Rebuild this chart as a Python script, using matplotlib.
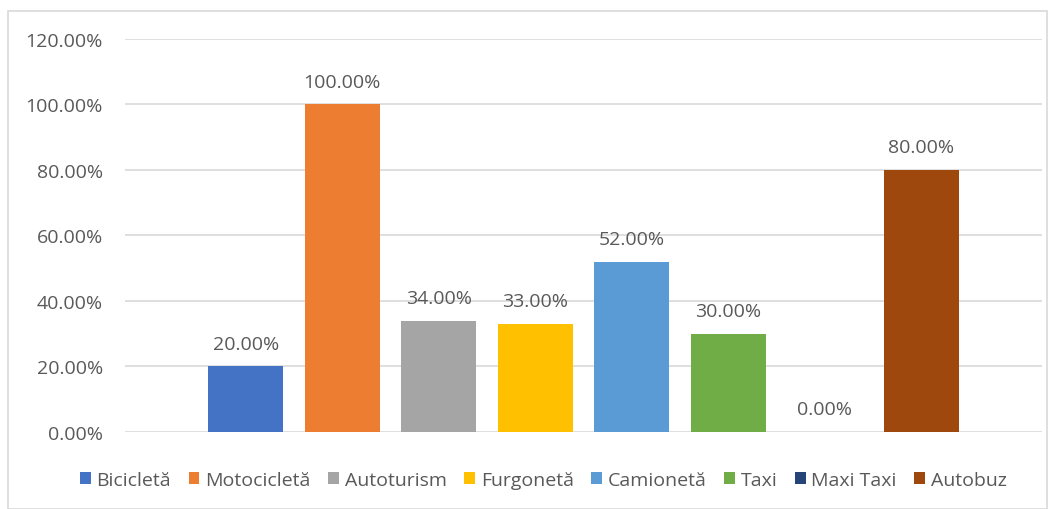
import matplotlib
matplotlib.use("Agg")
import matplotlib.pyplot as plt
from matplotlib.patches import Rectangle
from matplotlib.ticker import FuncFormatter

plt.rcParams["font.family"] = ["Open Sans", "DejaVu Sans"]

categories = ["Bicicletă", "Motocicletă", "Autoturism", "Furgonetă",
              "Camionetă", "Taxi", "Maxi Taxi", "Autobuz"]
values = [20.0, 100.0, 34.0, 33.0, 52.0, 30.0, 0.0, 80.0]
colors = ["#4472C4", "#ED7D31", "#A5A5A5", "#FFC000",
          "#5B9BD5", "#70AD47", "#264478", "#9E480E"]
yticks = [0, 20, 40, 60, 80, 100, 120]

text_color = "#595959"
grid_color = "#D9D9D9"

fig = plt.figure(figsize=(10.55, 5.10), dpi=100)
ax = fig.add_axes([0.1185, 0.151, 0.8692, 0.7706])

fig.patches.append(Rectangle((8 / 1055, 0.0), 1 - 16 / 1055, 1 - 12 / 510,
                             transform=fig.transFigure, fill=False,
                             edgecolor=grid_color, linewidth=1.2))

for i, (name, v, c) in enumerate(zip(categories, values, colors)):
    ax.bar(i, v, width=0.777, color=c, label=name, zorder=3)
    ax.annotate(f"{v:.2f}%", (i, v), xytext=(0, 10), textcoords="offset points",
                ha="center", va="bottom", fontsize=14, color=text_color)

ax.set_xlim(-1.25, 8.25)
ax.set_ylim(0, 120)
ax.set_yticks(yticks)
ax.yaxis.set_major_formatter(FuncFormatter(lambda y, _: f"{y:.2f}%"))
ax.tick_params(axis="y", length=0, pad=16, labelsize=14, labelcolor=text_color)
ax.set_xticks([])
ax.grid(axis="y", color=grid_color, linewidth=1.2, zorder=0)
for s in ax.spines.values():
    s.set_visible(False)

fig.legend(loc="center", bbox_to_anchor=(0.515, 1 - 481 / 510), ncol=8,
           frameon=False, fontsize=14, labelcolor=text_color,
           handlelength=0.55, handleheight=0.55, handletextpad=0.3,
           columnspacing=0.9)

fig.savefig("out.png", dpi=100)
plt.close(fig)
